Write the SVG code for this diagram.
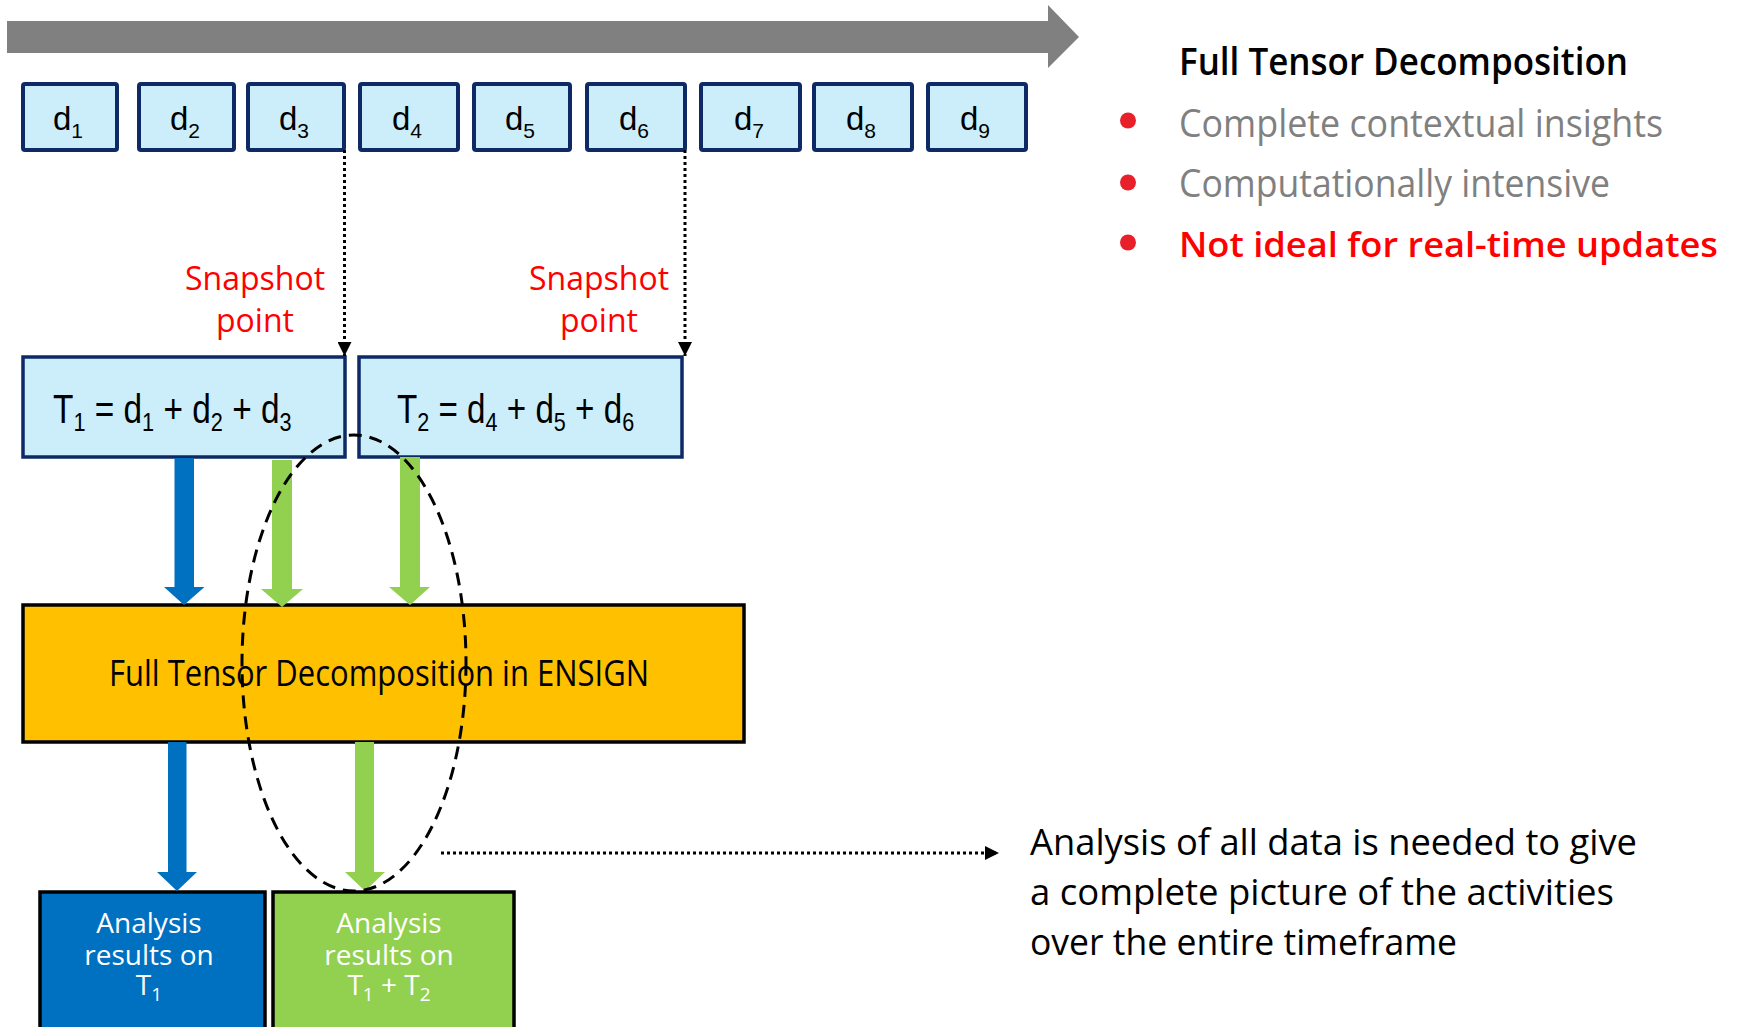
<svg xmlns="http://www.w3.org/2000/svg" width="1737" height="1027" viewBox="0 0 1737 1027">
<style>
.dbox{fill:#CCEEFA;stroke:#0D2A66;stroke-width:4}
.tbox{fill:#CCEEFA;stroke:#0D2A66;stroke-width:3.5}
.dt{font-family:"Liberation Sans",Arial,sans-serif;font-size:33px;fill:#000}
.sub{font-size:21px}
.tt{font-family:"Liberation Sans",Arial,sans-serif;font-size:40px;fill:#000}
.tsub{font-size:26px}
.hum{font-family:"Open Sans","Noto Sans",sans-serif}
.snap{font-size:32px;fill:#FF0000;text-anchor:middle}
.wt{font-size:28px;fill:#fff;text-anchor:middle}
.wsub{font-size:19px}
.dotted{stroke:#000;stroke-width:3;stroke-dasharray:3 3;fill:none}
.blue{fill:#0070C0}
.green{fill:#92D050}
</style>
<defs>
<marker id="ah" viewBox="0 0 10 10" refX="10" refY="5" markerWidth="16" markerHeight="14" markerUnits="userSpaceOnUse" orient="auto">
<path d="M0,0 L10,5 L0,10 Z" fill="#000"/>
</marker>
</defs>

<g id="timeline">
<polygon points="7,21 1048,21 1048,5 1079,37 1048,68 1048,53 7,53" fill="#808080"/>
</g>

<g id="d1"><rect class="dbox" x="23" y="84" width="94" height="66" rx="2"/><text class="dt" x="68" y="130" text-anchor="middle">d<tspan class="sub" dy="8">1</tspan></text></g>
<g id="d2"><rect class="dbox" x="139" y="84" width="95" height="66" rx="2"/><text class="dt" x="185" y="130" text-anchor="middle">d<tspan class="sub" dy="8">2</tspan></text></g>
<g id="d3"><rect class="dbox" x="248" y="84" width="96" height="66" rx="2"/><text class="dt" x="294" y="130" text-anchor="middle">d<tspan class="sub" dy="8">3</tspan></text></g>
<g id="d4"><rect class="dbox" x="360" y="84" width="98" height="66" rx="2"/><text class="dt" x="407" y="130" text-anchor="middle">d<tspan class="sub" dy="8">4</tspan></text></g>
<g id="d5"><rect class="dbox" x="474" y="84" width="96" height="66" rx="2"/><text class="dt" x="520" y="130" text-anchor="middle">d<tspan class="sub" dy="8">5</tspan></text></g>
<g id="d6"><rect class="dbox" x="587" y="84" width="98" height="66" rx="2"/><text class="dt" x="634" y="130" text-anchor="middle">d<tspan class="sub" dy="8">6</tspan></text></g>
<g id="d7"><rect class="dbox" x="701" y="84" width="99" height="66" rx="2"/><text class="dt" x="749" y="130" text-anchor="middle">d<tspan class="sub" dy="8">7</tspan></text></g>
<g id="d8"><rect class="dbox" x="814" y="84" width="98" height="66" rx="2"/><text class="dt" x="861" y="130" text-anchor="middle">d<tspan class="sub" dy="8">8</tspan></text></g>
<g id="d9"><rect class="dbox" x="928" y="84" width="98" height="66" rx="2"/><text class="dt" x="975" y="130" text-anchor="middle">d<tspan class="sub" dy="8">9</tspan></text></g>

<g id="snapshot1">
<text class="hum snap" x="255" y="290">Snapshot</text>
<text class="hum snap" x="255" y="332">point</text>
</g>
<g id="snapshot2">
<text class="hum snap" x="599" y="290">Snapshot</text>
<text class="hum snap" x="599" y="332">point</text>
</g>

<g id="T1"><rect class="tbox" x="23" y="357" width="322" height="100"/><text class="tt" transform="translate(53,423) scale(0.835,1)" x="0" y="0">T<tspan class="tsub" dy="8">1</tspan><tspan dy="-8"> = d</tspan><tspan class="tsub" dy="8">1</tspan><tspan dy="-8"> + d</tspan><tspan class="tsub" dy="8">2</tspan><tspan dy="-8"> + d</tspan><tspan class="tsub" dy="8">3</tspan></text></g>
<g id="T2"><rect class="tbox" x="359" y="357" width="323" height="100"/><text class="tt" transform="translate(397,423) scale(0.83,1)" x="0" y="0">T<tspan class="tsub" dy="8">2</tspan><tspan dy="-8"> = d</tspan><tspan class="tsub" dy="8">4</tspan><tspan dy="-8"> + d</tspan><tspan class="tsub" dy="8">5</tspan><tspan dy="-8"> + d</tspan><tspan class="tsub" dy="8">6</tspan></text></g>

<g id="ensign"><rect x="23" y="605" width="721" height="137" fill="#FFC000" stroke="#000" stroke-width="3.5"/><text class="hum" x="109" y="686" font-size="36" textLength="540" lengthAdjust="spacingAndGlyphs" fill="#000">Full Tensor Decomposition in ENSIGN</text></g>

<g id="result1"><rect x="40" y="892" width="225" height="145" fill="#0070C0" stroke="#000" stroke-width="3.5"/>
<text class="hum wt" x="149" y="933">Analysis</text>
<text class="hum wt" x="149" y="965">results on</text>
<text class="hum wt" x="149" y="995">T<tspan class="wsub" dy="6">1</tspan></text></g>
<g id="result2"><rect x="273" y="892" width="241" height="145" fill="#92D050" stroke="#000" stroke-width="3.5"/>
<text class="hum wt" x="389" y="933">Analysis</text>
<text class="hum wt" x="389" y="965">results on</text>
<text class="hum wt" x="389" y="995">T<tspan class="wsub" dy="6">1</tspan><tspan dy="-6"> + T</tspan><tspan class="wsub" dy="6">2</tspan></text></g>

<g id="summary" class="hum">
<text x="1179" y="75" font-size="38" font-weight="600" fill="#000" textLength="449" lengthAdjust="spacingAndGlyphs">Full Tensor Decomposition</text>
<circle cx="1128" cy="120.5" r="8" fill="#E8202A"/>
<circle cx="1128" cy="182.5" r="8" fill="#E8202A"/>
<circle cx="1128" cy="242.5" r="8" fill="#E8202A"/>
<text x="1179" y="137" font-size="38" fill="#808080" textLength="484" lengthAdjust="spacingAndGlyphs">Complete contextual insights</text>
<text x="1179" y="197" font-size="38" fill="#808080" textLength="431" lengthAdjust="spacingAndGlyphs">Computationally intensive</text>
<text x="1179" y="257" font-size="35" font-weight="600" fill="#FF0000" textLength="539" lengthAdjust="spacingAndGlyphs">Not ideal for real-time updates</text>
</g>

<g id="note" class="hum" font-size="37" fill="#000">
<text x="1030" y="855" textLength="607" lengthAdjust="spacingAndGlyphs">Analysis of all data is needed to give</text>
<text x="1030" y="905" textLength="584" lengthAdjust="spacingAndGlyphs">a complete picture of the activities</text>
<text x="1030" y="955" textLength="427" lengthAdjust="spacingAndGlyphs">over the entire timeframe</text>
</g>

<g id="connectors">
<line class="dotted" x1="344.5" y1="150" x2="344.5" y2="356" marker-end="url(#ah)"/>
<line class="dotted" x1="685" y1="150" x2="685" y2="356" marker-end="url(#ah)"/>
<polygon class="blue" points="174.5,458 194,458 194,587 204.5,587 184,605 164,587 174.5,587"/>
<polygon class="green" points="272,460 292,460 292,589 303,589 282,607 261,589 272,589"/>
<polygon class="green" points="400,457 420,457 420,587 430,587 410,605 389,587 400,587"/>
<polygon class="blue" points="168,742 186.5,742 186.5,872 197,872 177,891 157,872 168,872"/>
<polygon class="green" points="355,742 374,742 374,872 385,872 365,891 345,872 355,872"/>
<ellipse cx="354" cy="663" rx="112" ry="228" fill="none" stroke="#000" stroke-width="3" stroke-dasharray="13 8"/>
<line class="dotted" x1="441" y1="853" x2="999" y2="853" marker-end="url(#ah)"/>
</g>
</svg>
